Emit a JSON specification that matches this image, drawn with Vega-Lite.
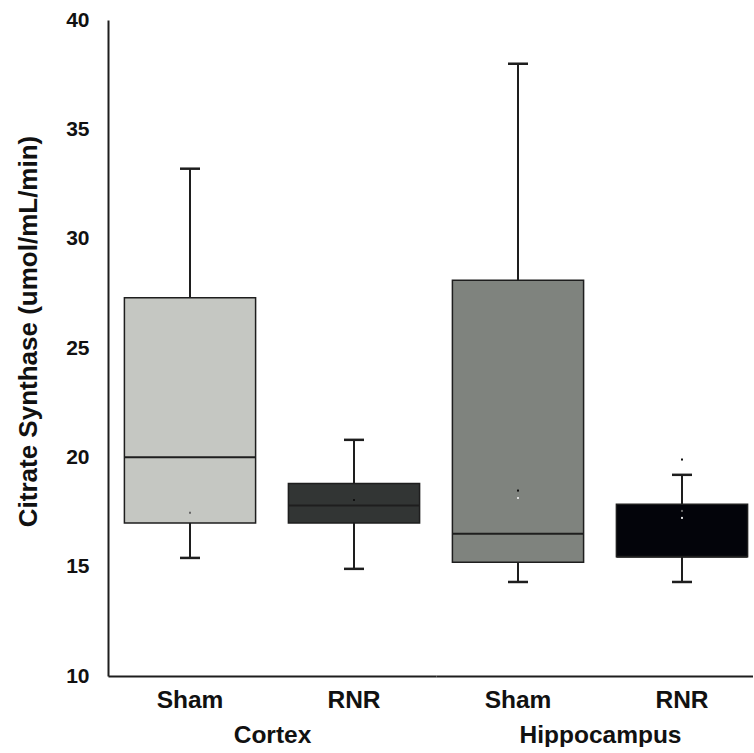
{
  "$schema": "https://vega.github.io/schema/vega-lite/v6.json",
  "padding": {"left": 15, "top": 9, "right": 0, "bottom": 0},
  "background": "white",
  "datasets": {
    "boxes": [
      {"region": "Cortex", "treatment": "Sham", "group": "Cortex Sham", "lower": 15.4, "q1": 17.0, "median": 20.0, "q3": 27.3, "upper": 33.2},
      {"region": "Cortex", "treatment": "RNR", "group": "Cortex RNR", "lower": 14.9, "q1": 17.0, "median": 17.8, "q3": 18.8, "upper": 20.8},
      {"region": "Hippocampus", "treatment": "Sham", "group": "Hippocampus Sham", "lower": 14.3, "q1": 15.2, "median": 16.5, "q3": 28.1, "upper": 38.0},
      {"region": "Hippocampus", "treatment": "RNR", "group": "Hippocampus RNR", "lower": 14.3, "q1": 15.45, "median": 15.45, "q3": 17.85, "upper": 19.2}
    ],
    "points": [
      {"region": "Cortex", "treatment": "Sham", "value": 17.47, "tone": "mid"},
      {"region": "Cortex", "treatment": "RNR", "value": 18.05, "tone": "dark"},
      {"region": "Hippocampus", "treatment": "Sham", "value": 18.48, "tone": "dark"},
      {"region": "Hippocampus", "treatment": "Sham", "value": 18.14, "tone": "light"},
      {"region": "Hippocampus", "treatment": "RNR", "value": 19.9, "tone": "dark"},
      {"region": "Hippocampus", "treatment": "RNR", "value": 17.55, "tone": "mid"},
      {"region": "Hippocampus", "treatment": "RNR", "value": 17.23, "tone": "light"}
    ]
  },
  "config": {
    "view": {"stroke": null},
    "concat": {"spacing": 0},
    "font": "Liberation Sans",
    "axis": {
      "grid": false, "ticks": false, "domainColor": "#1e1e1e", "domainWidth": 2,
      "labelFont": "Liberation Sans", "labelFontWeight": "bold", "labelColor": "#111111",
      "titleFont": "Liberation Sans", "titleFontWeight": "bold", "titleColor": "#111111"
    },
    "axisX": {"labelFontSize": 24.5, "titleFontSize": 24.5, "labelPadding": 12, "titlePadding": 12, "labelAngle": 0},
    "axisY": {"labelFontSize": 21, "titleFontSize": 26, "labelPadding": 19, "titlePadding": 24}
  },
  "resolve": {"scale": {"y": "shared"}},
  "hconcat": [
    {
      "width": 328,
      "height": 656,
      "layer": [
        {
          "data": {"name": "boxes"},
          "transform": [{"filter": "datum.region === 'Cortex'"}],
          "mark": {"type": "rule", "color": "#1e1e1e", "strokeWidth": 2},
          "encoding": {
            "x": {"field": "treatment", "type": "nominal", "sort": ["Sham", "RNR"], "scale": {"paddingInner": 0.2, "paddingOuter": 0.1}, "axis": {"title": "Cortex"}},
            "y": {"field": "lower", "type": "quantitative", "scale": {"domain": [10, 40], "nice": false, "zero": false}, "axis": {"title": "Citrate Synthase (umol/mL/min)", "titleY": 311, "values": [10, 15, 20, 25, 30, 35, 40]}},
            "y2": {"field": "upper"}
          }
        },
        {
          "data": {"name": "boxes"},
          "transform": [{"filter": "datum.region === 'Cortex'"}],
          "mark": {"type": "bar", "stroke": "#1e1e1e", "strokeWidth": 1.5},
          "encoding": {
            "x": {"field": "treatment", "type": "nominal", "sort": ["Sham", "RNR"]},
            "y": {"field": "q1", "type": "quantitative", "axis": {"title": "Citrate Synthase (umol/mL/min)", "titleY": 311, "values": [10, 15, 20, 25, 30, 35, 40]}},
            "y2": {"field": "q3"},
            "fill": {"field": "group", "type": "nominal", "legend": null, "scale": {"domain": ["Cortex Sham", "Cortex RNR", "Hippocampus Sham", "Hippocampus RNR"], "range": ["#c5c7c2", "#323534", "#7f837e", "#03040a"]}}
          }
        },
        {
          "data": {"name": "boxes"},
          "transform": [{"filter": "datum.region === 'Cortex'"}],
          "mark": {"type": "tick", "color": "#1e1e1e", "size": 131, "thickness": 2, "opacity": 1},
          "encoding": {
            "x": {"field": "treatment", "type": "nominal", "sort": ["Sham", "RNR"]},
            "y": {"field": "median", "type": "quantitative", "axis": {"title": "Citrate Synthase (umol/mL/min)", "titleY": 311, "values": [10, 15, 20, 25, 30, 35, 40]}}
          }
        },
        {
          "data": {"name": "boxes"},
          "transform": [{"filter": "datum.region === 'Cortex'"}],
          "mark": {"type": "tick", "color": "#1e1e1e", "size": 20, "thickness": 2.5, "opacity": 1},
          "encoding": {
            "x": {"field": "treatment", "type": "nominal", "sort": ["Sham", "RNR"]},
            "y": {"field": "lower", "type": "quantitative", "axis": {"title": "Citrate Synthase (umol/mL/min)", "titleY": 311, "values": [10, 15, 20, 25, 30, 35, 40]}}
          }
        },
        {
          "data": {"name": "boxes"},
          "transform": [{"filter": "datum.region === 'Cortex'"}],
          "mark": {"type": "tick", "color": "#1e1e1e", "size": 20, "thickness": 2.5, "opacity": 1},
          "encoding": {
            "x": {"field": "treatment", "type": "nominal", "sort": ["Sham", "RNR"]},
            "y": {"field": "upper", "type": "quantitative", "axis": {"title": "Citrate Synthase (umol/mL/min)", "titleY": 311, "values": [10, 15, 20, 25, 30, 35, 40]}}
          }
        },
        {
          "data": {"name": "points"},
          "transform": [{"filter": "datum.region === 'Cortex'"}],
          "mark": {"type": "square", "size": 4, "filled": true, "opacity": 1},
          "encoding": {
            "x": {"field": "treatment", "type": "nominal", "sort": ["Sham", "RNR"]},
            "y": {"field": "value", "type": "quantitative", "axis": {"title": "Citrate Synthase (umol/mL/min)", "titleY": 311, "values": [10, 15, 20, 25, 30, 35, 40]}},
            "color": {"field": "tone", "type": "nominal", "legend": null, "scale": {"domain": ["dark", "mid", "light"], "range": ["#111111", "#666666", "#dddddd"]}}
          }
        },
        {
          "mark": {"type": "rule", "color": "#1e1e1e", "strokeWidth": 2},
          "encoding": {"y": {"datum": 40, "type": "quantitative", "axis": {"title": "Citrate Synthase (umol/mL/min)", "titleY": 311, "values": [10, 15, 20, 25, 30, 35, 40]}}}
        }
      ]
    },
    {
      "width": 317,
      "height": 656,
      "layer": [
        {
          "data": {"name": "boxes"},
          "transform": [{"filter": "datum.region === 'Hippocampus'"}],
          "mark": {"type": "rule", "color": "#1e1e1e", "strokeWidth": 2},
          "encoding": {
            "x": {"field": "treatment", "type": "nominal", "sort": ["Sham", "RNR"], "scale": {"paddingInner": 0.2, "paddingOuter": 0.0665, "align": 0.752}, "axis": {"title": "Hippocampus", "titleX": 164}},
            "y": {"field": "lower", "type": "quantitative", "axis": null},
            "y2": {"field": "upper"}
          }
        },
        {
          "data": {"name": "boxes"},
          "transform": [{"filter": "datum.region === 'Hippocampus'"}],
          "mark": {"type": "bar", "stroke": "#1e1e1e", "strokeWidth": 1.5},
          "encoding": {
            "x": {"field": "treatment", "type": "nominal", "sort": ["Sham", "RNR"]},
            "y": {"field": "q1", "type": "quantitative", "axis": null},
            "y2": {"field": "q3"},
            "fill": {"field": "group", "type": "nominal", "legend": null, "scale": {"domain": ["Cortex Sham", "Cortex RNR", "Hippocampus Sham", "Hippocampus RNR"], "range": ["#c5c7c2", "#323534", "#7f837e", "#03040a"]}}
          }
        },
        {
          "data": {"name": "boxes"},
          "transform": [{"filter": "datum.region === 'Hippocampus'"}],
          "mark": {"type": "tick", "color": "#1e1e1e", "size": 131, "thickness": 2, "opacity": 1},
          "encoding": {
            "x": {"field": "treatment", "type": "nominal", "sort": ["Sham", "RNR"]},
            "y": {"field": "median", "type": "quantitative", "axis": null}
          }
        },
        {
          "data": {"name": "boxes"},
          "transform": [{"filter": "datum.region === 'Hippocampus'"}],
          "mark": {"type": "tick", "color": "#1e1e1e", "size": 20, "thickness": 2.5, "opacity": 1},
          "encoding": {
            "x": {"field": "treatment", "type": "nominal", "sort": ["Sham", "RNR"]},
            "y": {"field": "lower", "type": "quantitative", "axis": null}
          }
        },
        {
          "data": {"name": "boxes"},
          "transform": [{"filter": "datum.region === 'Hippocampus'"}],
          "mark": {"type": "tick", "color": "#1e1e1e", "size": 20, "thickness": 2.5, "opacity": 1},
          "encoding": {
            "x": {"field": "treatment", "type": "nominal", "sort": ["Sham", "RNR"]},
            "y": {"field": "upper", "type": "quantitative", "axis": null}
          }
        },
        {
          "data": {"name": "points"},
          "transform": [{"filter": "datum.region === 'Hippocampus'"}],
          "mark": {"type": "square", "size": 4, "filled": true, "opacity": 1},
          "encoding": {
            "x": {"field": "treatment", "type": "nominal", "sort": ["Sham", "RNR"]},
            "y": {"field": "value", "type": "quantitative", "axis": null},
            "color": {"field": "tone", "type": "nominal", "legend": null, "scale": {"domain": ["dark", "mid", "light"], "range": ["#111111", "#666666", "#dddddd"]}}
          }
        },
        {
          "mark": {"type": "rule", "color": "#1e1e1e", "strokeWidth": 2},
          "encoding": {"y": {"datum": 40, "type": "quantitative", "axis": null}}
        }
      ]
    }
  ]
}
